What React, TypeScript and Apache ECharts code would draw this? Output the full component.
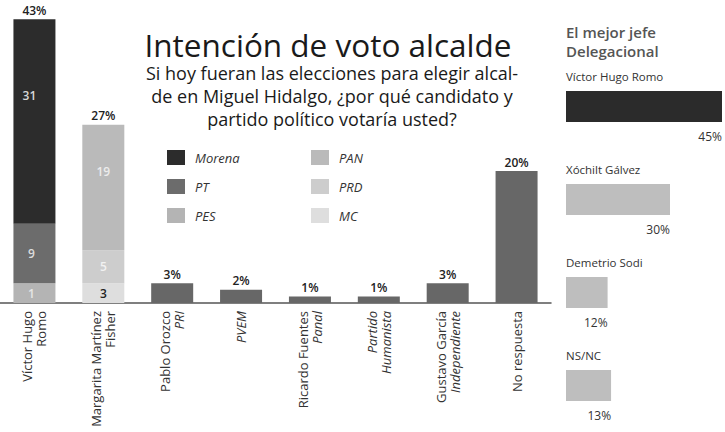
import React, { useEffect, useRef } from "react";
import * as echarts from "echarts";

// ---- Main chart data ----
const candidateLine1 = ["Víctor Hugo", "Margarita Martínez", "Pablo Orozco", "", "Ricardo Fuentes", "Partido", "Gustavo García", "No respuesta"];
const candidateLine2 = ["Romo", "Fisher", "PRI", "PVEM", "Panal", "Humanista", "Independiente", ""];
const line1Italic = [false, false, false, false, false, true, false, false];
const line2Italic = [false, false, true, true, true, true, true, false];

const morena = [31, null, null, null, null, null, null, null];
const pt = [9, null, null, null, null, null, null, null];
const pes = [3, null, null, null, null, null, null, null];
const pesShown = ["1", "", "", "", "", "", "", ""];
const pan = [null, 19, null, null, null, null, null, null];
const prd = [null, 5, null, null, null, null, null, null];
const mc = [null, 3, null, null, null, null, null, null];
const otros = [null, null, 3, 2, 1, 1, 3, 20];
const totals = [43, 27, 3, 2, 1, 1, 3, 20];

// ---- Side panel data ----
const sideNames = ["Víctor Hugo Romo", "Xóchilt Gálvez", "Demetrio Sodi", "NS/NC"];
const sideValues = [45, 30, 12, 13];

const FONT = "'Open Sans', 'Noto Sans', sans-serif";

export default function App() {
  const ref = useRef<HTMLDivElement>(null);
  useEffect(() => {
    document.body.style.margin = "0";
    if (!ref.current) return;
    const chart = echarts.init(ref.current, null, { renderer: "svg" });
    const cats = candidateLine1.map((_, i) => "c" + i);

    const innerLabel = (color: string, offset: number[] = [0, 0], texts?: string[]) => ({
      show: true,
      position: "inside",
      offset,
      color,
      fontFamily: FONT,
      fontSize: 12,
      fontWeight: 600,
      formatter: (p: any) => (texts ? texts[p.dataIndex] : String(p.value)),
    });

    const seg = (name: string, data: any[], color: string, label: any) => ({
      name,
      type: "bar",
      stack: "a",
      data,
      barWidth: 42,
      xAxisIndex: 0,
      yAxisIndex: 0,
      itemStyle: { color },
      label,
    });

    const legendBase = {
      orient: "vertical",
      top: 150,
      padding: 0,
      itemWidth: 18,
      itemHeight: 15,
      itemGap: 14,
      icon: "rect",
      selectedMode: false,
      textStyle: { fontFamily: FONT, fontSize: 13, fontStyle: "italic", color: "#333", padding: [0, 0, 0, 5] },
    };

    const option: any = {
      animation: false,
      backgroundColor: "#ffffff",
      title: [
        {
          text: "Intención de voto alcalde",
          left: 328,
          top: 29,
          padding: 0,
          textAlign: "center",
          textStyle: { fontFamily: FONT, fontSize: 31.5, lineHeight: 31, fontWeight: "normal", color: "#1a1a1a" },
        },
        {
          text: "Si hoy fueran las elecciones para elegir alcal-\nde en Miguel Hidalgo, ¿por qué candidato y\npartido político votaría usted?",
          left: 332,
          top: 61,
          padding: 0,
          textAlign: "center",
          textStyle: { fontFamily: FONT, fontSize: 18, lineHeight: 23, fontWeight: 500, color: "#1a1a1a" },
        },
        {
          text: "El mejor jefe\nDelegacional",
          left: 566,
          top: 22,
          padding: 0,
          textAlign: "left",
          textStyle: { fontFamily: FONT, fontSize: 15, lineHeight: 19, fontWeight: 600, color: "#555", align: "left" },
        },
      ],
      legend: [
        { ...legendBase, data: ["Morena", "PT", "PES"], left: 167 },
        { ...legendBase, data: ["PAN", "PRD", "MC"], left: 311 },
      ],
      grid: [
        { left: -4, width: 555, top: 6, height: 297 },
        { left: 566, width: 156, top: 60, height: 382 },
      ],
      xAxis: [
        {
          type: "category",
          gridIndex: 0,
          data: cats,
          axisLine: { lineStyle: { color: "#555", width: 1.5 } },
          axisTick: { show: false },
          axisLabel: {
            interval: 0,
            rotate: 90,
            margin: 8,
            color: "#333",
            fontFamily: FONT,
            fontSize: 13,
            formatter: (_: string, i: number) => {
              const a = candidateLine1[i];
              const b = candidateLine2[i];
              const parts: string[] = [];
              if (a) parts.push(`{${line1Italic[i] ? "i" : "n"}|${a}}`);
              if (b) parts.push(`{${line2Italic[i] ? "i" : "n"}|${b}}`);
              return parts.join("\n");
            },
            rich: {
              n: { fontFamily: FONT, fontSize: 13, lineHeight: 14, color: "#333" },
              i: { fontFamily: FONT, fontSize: 13, lineHeight: 14, color: "#333", fontStyle: "italic" },
            },
          },
        },
        { type: "value", gridIndex: 1, min: 0, max: 45, show: false },
      ],
      yAxis: [
        { type: "value", gridIndex: 0, min: 0, max: 45, show: false },
        { type: "category", gridIndex: 1, data: sideNames, inverse: true, show: false },
      ],
      series: [
        seg("PES", pes, "#b4b4b4", innerLabel("#e6e6e6", [-3, 0], pesShown)),
        seg("PT", pt, "#6c6c6c", innerLabel("#dcdcdc", [-3, 0])),
        seg("Morena", morena, "#2c2c2c", innerLabel("#d8d8d8", [-5, -26])),
        seg("MC", mc, "#dedede", innerLabel("#222", [0, 0])),
        seg("PRD", prd, "#cdcdcd", innerLabel("#f2f2f2", [0, 0])),
        seg("PAN", pan, "#bababa", innerLabel("#ececec", [0, -16])),
        seg("Otros", otros, "#676767", { show: false }),
        {
          name: "total",
          type: "bar",
          stack: "a",
          barWidth: 42,
          data: totals.map(() => 0),
          itemStyle: { color: "transparent" },
          label: {
            show: true,
            position: "top",
            distance: 3,
            color: "#222",
            fontFamily: FONT,
            fontSize: 12,
            fontWeight: 600,
            formatter: (p: any) => totals[p.dataIndex] + "%",
          },
        },
        {
          name: "side",
          type: "bar",
          xAxisIndex: 1,
          yAxisIndex: 1,
          barWidth: 31,
          barGap: "-100%",
          data: sideValues.map((v, i) => ({ value: v, itemStyle: { color: i === 0 ? "#2b2b2b" : "#bebebe" } })),
          label: {
            show: true,
            position: ["100%", "100%"],
            align: "right",
            verticalAlign: "top",
            offset: [0, 8],
            color: "#333",
            fontFamily: FONT,
            fontSize: 12,
            formatter: (p: any) => p.value + "%",
          },
        },
        {
          name: "sideNames",
          type: "bar",
          xAxisIndex: 1,
          yAxisIndex: 1,
          barWidth: 31,
          barGap: "-100%",
          silent: true,
          data: sideValues,
          itemStyle: { color: "rgba(0,0,0,0)" },
          label: {
            show: true,
            position: [0, 0],
            align: "left",
            verticalAlign: "bottom",
            offset: [0, -9],
            color: "#333",
            fontFamily: FONT,
            fontSize: 11.5,
            formatter: (p: any) => sideNames[p.dataIndex],
          },
        },
      ],
    };
    chart.setOption(option);
    return () => chart.dispose();
  }, []);
  return <div ref={ref} style={{ width: 725, height: 432 }} />;
}
